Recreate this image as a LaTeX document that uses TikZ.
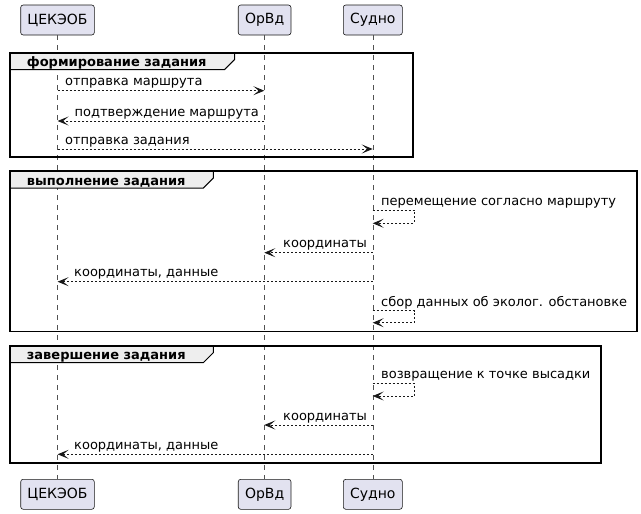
\documentclass[tikz,border=0pt]{standalone}
\usepackage{fontspec}
\setmainfont{DejaVu Sans}
\usetikzlibrary{arrows.meta}
\definecolor{partfill}{HTML}{E2E2F0}
\definecolor{partline}{HTML}{181818}
\definecolor{tabfill}{HTML}{EEEEEE}
\tikzset{
  x=1pt, y=-1pt,
  part/.style={draw=partline, fill=partfill, line width=0.6pt, rounded corners=2.5pt,
    minimum height=30pt, inner sep=0pt, font=\fontsize{14}{16}\selectfont},
  lifeline/.style={draw=partline!75, line width=0.45pt, dash pattern=on 5pt off 5pt},
  msg/.style={draw=partline, line width=0.7pt, dash pattern=on 2pt off 2pt,
    -{Stealth[length=11pt,width=9pt,inset=5.5pt,line width=0.8pt]}},
  msgtxt/.style={anchor=base west, inner sep=0pt, font=\fontsize{13}{15}\selectfont},
  frame/.style={draw=black, line width=1.6pt},
  tab/.style={draw=black, line width=1pt, fill=tabfill},
  tabtxt/.style={anchor=base west, inner sep=0pt, font=\fontsize{13}{15}\selectfont\bfseries},
}
\begin{document}
\begin{tikzpicture}
\useasboundingbox (0,0) rectangle (641,514);
% participants
\node[part, minimum width=73.6pt] (c1) at (57.5,20) {ЦЕКЭОБ};
\node[part, minimum width=52.7pt] (o1) at (264.6,20) {ОрВд};
\node[part, minimum width=59pt] (s1) at (372.8,20) {Судно};
\node[part, minimum width=73.6pt] (c2) at (57.5,494.3) {ЦЕКЭОБ};
\node[part, minimum width=52.7pt] (o2) at (264.6,494.3) {ОрВд};
\node[part, minimum width=59pt] (s2) at (372.8,494.3) {Судно};
\draw[lifeline] (c1.south) -- (c2.north);
\draw[lifeline] (o1.south) -- (o2.north);
\draw[lifeline] (s1.south) -- (s2.north);

% group 1
\draw[tab] (10,52.7) -- (234.5,52.7) -- (234.5,59.7) -- (224.5,69.7) -- (10,69.7) -- cycle;
\draw[frame] (10,52.7) rectangle (412.7,157);
\node[tabtxt] (g1) at (26.7,66.5) {формирование задания};

\coordinate (a1) at (57.6,90.7); \coordinate (b1) at (264.3,90.7);
\draw[msg] (a1) -- (b1);
\node[msgtxt] (t1) at (65,85.7) {отправка маршрута};

\coordinate (a2) at (264.3,121); \coordinate (b2) at (57.6,121);
\draw[msg] (a2) -- (b2);
\node[msgtxt] (t2) at (74.5,116) {подтверждение маршрута};

\coordinate (a3) at (57.6,149); \coordinate (b3) at (372.7,149);
\draw[msg] (a3) -- (b3);
\node[msgtxt] (t3) at (65,144) {отправка задания};

% group 2
\draw[tab] (10,171) -- (213.3,171) -- (213.3,178) -- (203.3,188) -- (10,188) -- cycle;
\draw[frame] (10,171) rectangle (636.7,331.3);
\node[tabtxt] (g2) at (26.7,185) {выполнение задания};

\coordinate (a4) at (372.7,210); \coordinate (k4) at (414.3,210);
\coordinate (l4) at (414.3,223.3); \coordinate (b4) at (372.7,223.3);
\draw[msg] (a4) -- (k4) -- (l4) -- (b4);
\node[msgtxt] (t4) at (381,205.5) {перемещение согласно маршруту};

\coordinate (a5) at (372.7,252.7); \coordinate (b5) at (264.3,252.7);
\draw[msg] (a5) -- (b5);
\node[msgtxt] (t5) at (283,247.7) {координаты};

\coordinate (a6) at (372.7,281.7); \coordinate (b6) at (57.6,281.7);
\draw[msg] (a6) -- (b6);
\node[msgtxt] (t6) at (74,276.7) {координаты, данные};

\coordinate (a7) at (372.7,310.7); \coordinate (k7) at (414.3,310.7);
\coordinate (l7) at (414.3,322.7); \coordinate (b7) at (372.7,322.7);
\draw[msg] (a7) -- (k7) -- (l7) -- (b7);
\node[msgtxt] (t7) at (381,306.2) {сбор данных об эколог. обстановке};

% group 3
\draw[tab] (10,345.7) -- (213.3,345.7) -- (213.3,352.7) -- (203.3,362.7) -- (10,362.7) -- cycle;
\draw[frame] (10,345.7) rectangle (601,462.7);
\node[tabtxt] (g3) at (26.7,359.7) {завершение задания};

\coordinate (a8) at (372.7,383.3); \coordinate (k8) at (414.3,383.3);
\coordinate (l8) at (414.3,396); \coordinate (b8) at (372.7,396);
\draw[msg] (a8) -- (k8) -- (l8) -- (b8);
\node[msgtxt] (t8) at (381,378.8) {возвращение к точке высадки};

\coordinate (a9) at (372.7,425); \coordinate (b9) at (264.3,425);
\draw[msg] (a9) -- (b9);
\node[msgtxt] (t9) at (283,420) {координаты};

\coordinate (a10) at (372.7,454.3); \coordinate (b10) at (57.6,454.3);
\draw[msg] (a10) -- (b10);
\node[msgtxt] (t10) at (74,449.3) {координаты, данные};
\end{tikzpicture}
\end{document}
